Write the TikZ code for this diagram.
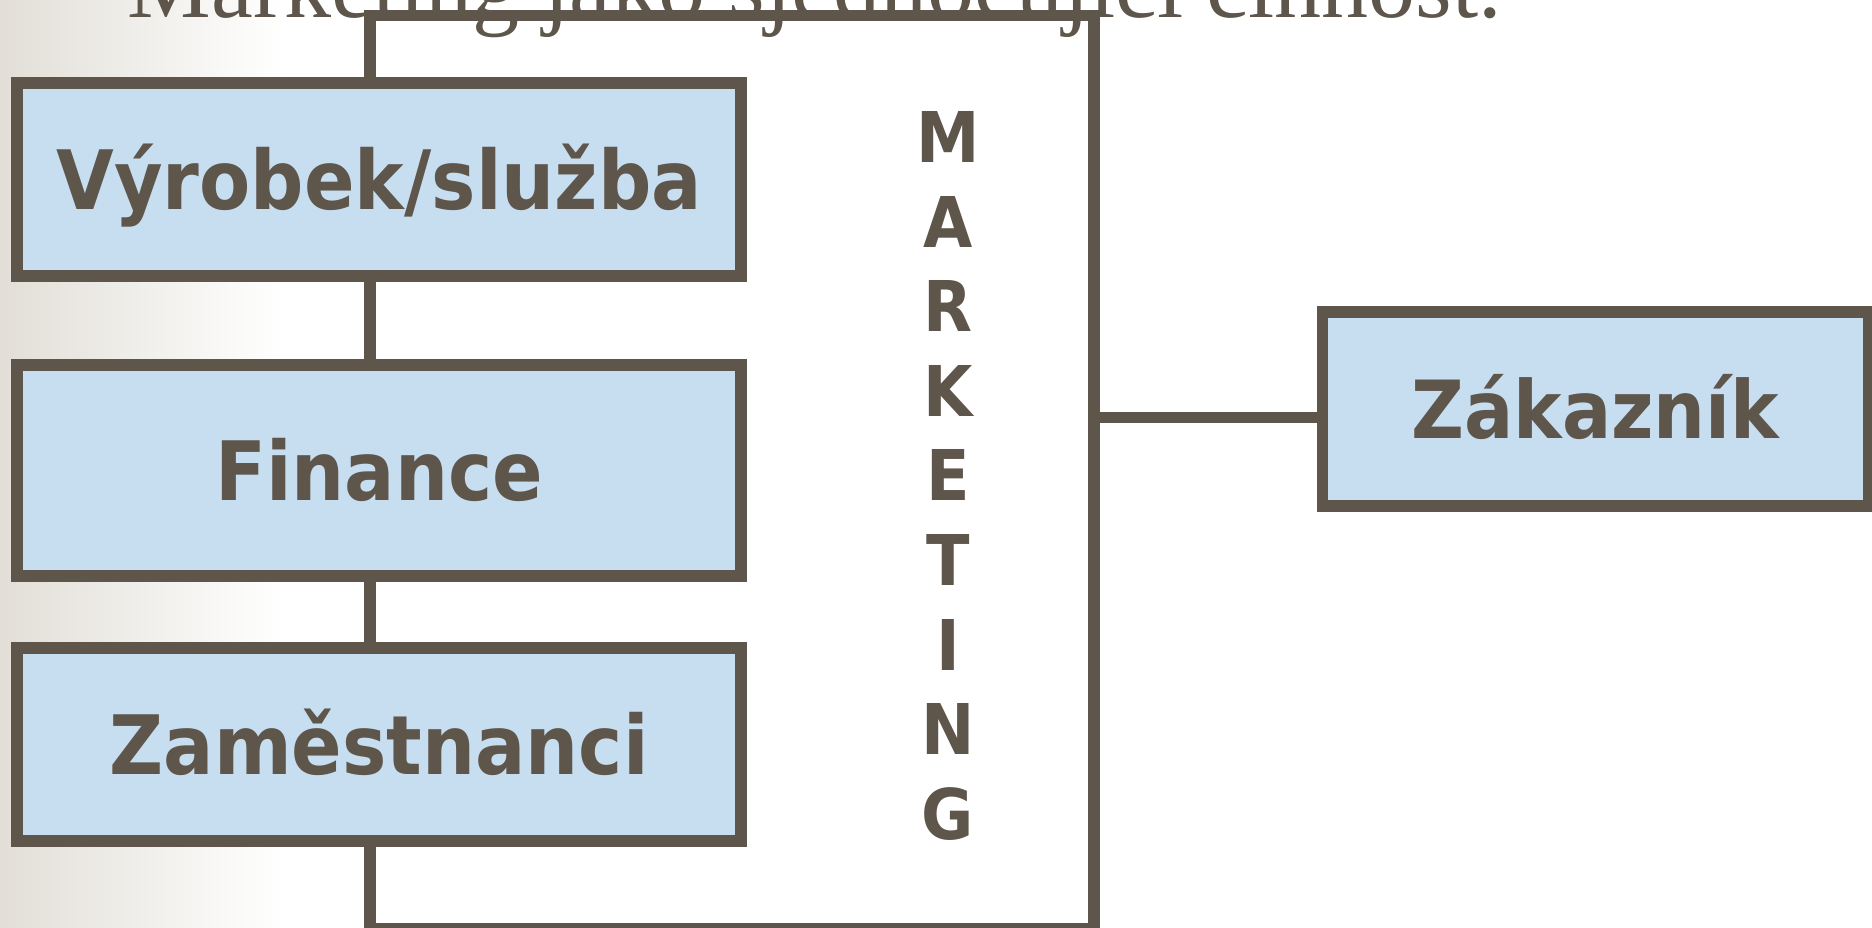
\documentclass[tikz,border=0pt]{standalone}
\usepackage{fontspec}
\setmainfont{Liberation Serif}
\newfontfamily\boxfont[FakeStretch=0.91]{DejaVu Sans}
\usepackage{tikz}
\usetikzlibrary{calc}
\definecolor{edgebrown}{RGB}{94,85,75}
\definecolor{boxblue}{RGB}{199,221,240}
\definecolor{sidegrey}{RGB}{217,212,202}

\begin{document}
\begin{tikzpicture}[x=0.01cm, y=-0.01cm,
    box/.style={draw=edgebrown, fill=boxblue, line width=0.116cm, inner sep=0pt,
        minimum width=7.235cm, minimum height=1.93cm, text=edgebrown,
        font=\boxfont\bfseries\fontsize{23.3pt}{28pt}\selectfont,
        text height=0.6cm, text depth=0pt},
    vletter/.style={text=edgebrown, inner sep=0pt,
        font=\boxfont\bfseries\fontsize{19.9pt}{24pt}\selectfont}]
        \useasboundingbox (0,0) rectangle (1872,928);
        \clip (0,0) rectangle (1872,928);

        % Side shading
        \shade[left color=sidegrey, right color=white] (-95,0) rectangle (285,928);

        % Heading, mostly off the page
        \node[anchor=base west, inner sep=0pt, text=edgebrown,
              font=\fontsize{26.75pt}{32pt}\selectfont] (title) at (127,17.3)
              {Marketing jako sjednocující činnost.};

        % Marketing frame
        \node[draw=edgebrown, line width=0.116cm, minimum width=7.235cm,
              minimum height=9.127cm, inner sep=0pt] (mkt) at (731.75,472.15) {};

        \coordinate (joint) at (0,417.5);
        \draw[edgebrown, line width=0.116cm] (mkt.east |- joint) -- (joint -| 1322.5,0);

        % Boxes
        \node[box] (vyrobek) at (379.25,179.5) {Výrobek/služba};
        \node[box, minimum height=2.11cm] (finance) at (379.25,470.5) {Finance};
        \node[box] (zamest) at (379.25,744.5) {Zaměstnanci};
        \node[box, minimum width=5.46cm, minimum height=1.935cm,
              font=\boxfont\bfseries\fontsize{22.8pt}{27pt}\selectfont,
              text height=0.583cm] (zakaznik) at (1595.5,409) {Zákazník};

        % Vertical lettering
        \foreach \ch [count=\i] in {M,A,R,K,E,T,I,N,G}
            \node[vletter] (letter\i) at (948,{137+84.6*(\i-1)}) {\ch};
\end{tikzpicture}
\end{document}
